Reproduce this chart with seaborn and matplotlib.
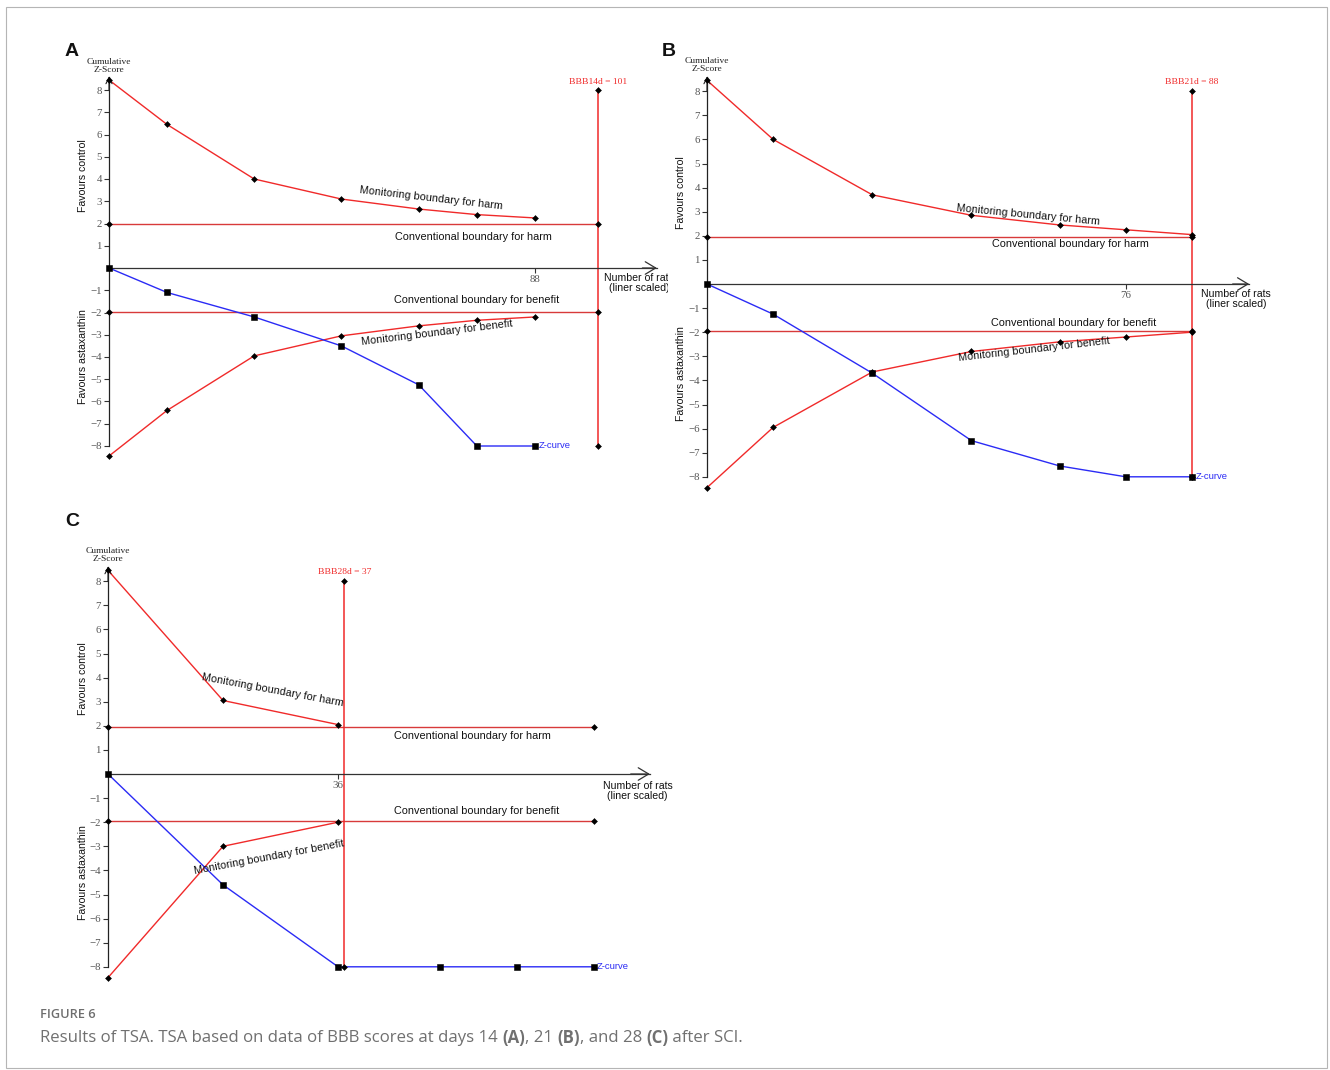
import numpy as np
import pandas as pd
import matplotlib
matplotlib.use("Agg")
import matplotlib.pyplot as plt
from matplotlib.patches import Rectangle
import seaborn as sns

# ---------------- data ----------------
conv_bound = 1.96

# Panel A: BBB score at day 14
a_n = [0, 12, 30, 48, 64, 76, 88]
a_harm = [8.45, 6.45, 4.0, 3.1, 2.65, 2.4, 2.25]
a_benefit = [-8.45, -6.4, -3.95, -3.05, -2.6, -2.35, -2.2]
a_z = [0.0, -1.1, -2.2, -3.5, -5.25, -8.0, -8.0]
a_ris = 101
a_ris_label = "BBB14d = 101"
a_xticks = [88]

# Panel B: BBB score at day 21
b_n = [0, 12, 30, 48, 64, 76, 88]
b_harm = [8.45, 6.0, 3.7, 2.85, 2.45, 2.25, 2.05]
b_benefit = [-8.45, -5.95, -3.65, -2.8, -2.4, -2.2, -2.0]
b_z = [0.0, -1.25, -3.7, -6.5, -7.55, -8.0, -8.0]
b_ris = 88
b_ris_label = "BBB21d = 88"
b_xticks = [76]

# Panel C: BBB score at day 28
c_bound_n = [0, 18, 36]
c_harm = [8.45, 3.05, 2.05]
c_benefit = [-8.45, -3.0, -2.0]
c_z_n = [0, 18, 36, 52, 64, 76]
c_z = [0.0, -4.6, -8.0, -8.0, -8.0, -8.0]
c_ris = 37
c_ris_label = "BBB28d = 37"
c_conv_end = 76
c_xticks = [36]

yticks = [-8, -7, -6, -5, -4, -3, -2, -1, 1, 2, 3, 4, 5, 6, 7, 8]

# ---------------- style ----------------
W, H = 1330, 1070
sns.set_theme(style="white")
plt.rcParams["font.family"] = ["Liberation Sans", "DejaVu Sans"]
plt.rcParams["axes.unicode_minus"] = True

RED = "#f02a2a"
CONV_RED = "#d83a3a"
BLUE = "#2b2bf5"
SERIF = ["Liberation Serif", "DejaVu Serif"]
SANS = ["Liberation Sans", "DejaVu Sans"]

fig = plt.figure(figsize=(W / 100, H / 100), dpi=100)
fig.patch.set_facecolor("white")

# outer frame of the figure
fig.add_artist(Rectangle((6 / W, 1 - 1068 / H), 1321 / W, 1061 / H,
                         transform=fig.transFigure, fill=False,
                         edgecolor="#b5b5b5", linewidth=0.8))


def panel_axes(box, origin, scale):
    left, top, right, bottom = box
    x0, y0 = origin
    sx, sy = scale
    ax = fig.add_axes([left / W, 1 - bottom / H, (right - left) / W, (bottom - top) / H])
    ax.set_xlim((left - x0) / sx, (right - x0) / sx)
    ax.set_ylim((y0 - bottom) / sy, (y0 - top) / sy)
    ax.patch.set_alpha(0)
    return ax


def line(ax, xs, ys, color, lw=1.0, z=2):
    df = pd.DataFrame({"n": xs, "z": ys})
    sns.lineplot(data=df, x="n", y="z", ax=ax, color=color, linewidth=lw,
                 sort=False, estimator=None, zorder=z)


def dots(ax, xs, ys, marker="D", size=9):
    df = pd.DataFrame({"n": xs, "z": ys})
    sns.scatterplot(data=df, x="n", y="z", ax=ax, marker=marker, s=size,
                    color="black", edgecolor="black", linewidth=0.4, zorder=5,
                    legend=False)


def draw_panel(ax, harm_n, harm, benefit, z_n, z, ris, ris_label,
               conv_end, xticks, arrow_end, labels):
    # conventional boundaries
    line(ax, [0, conv_end], [conv_bound, conv_bound], CONV_RED)
    line(ax, [0, conv_end], [-conv_bound, -conv_bound], CONV_RED)
    dots(ax, [0, conv_end, 0, conv_end],
         [conv_bound, conv_bound, -conv_bound, -conv_bound])

    # monitoring boundaries
    line(ax, harm_n, harm, RED)
    line(ax, harm_n, benefit, RED)
    dots(ax, harm_n, harm)
    dots(ax, harm_n, benefit)

    # required information size
    line(ax, [ris, ris], [-8, 8], RED, lw=1.1)
    dots(ax, [ris, ris], [8, -8])
    ax.text(ris, 8.2, ris_label, color=RED, fontsize=6.8, family=SERIF,
            ha="center", va="bottom")

    # cumulative Z-curve
    line(ax, z_n, z, BLUE, z=3)
    dots(ax, z_n, z, marker="s", size=14)
    ax.text(z_n[-1] + labels["zdx"], z[-1], "Z-curve", color=BLUE, fontsize=6.8,
            family=SANS, ha="left", va="center")

    # axes: y axis at n = 0, x axis at z = 0
    for side in ("top", "right"):
        ax.spines[side].set_visible(False)
    ax.spines["left"].set_position(("data", 0))
    ax.spines["left"].set_bounds(-8, 8.6)
    ax.spines["left"].set_color("#222222")
    ax.spines["left"].set_linewidth(0.9)
    ax.spines["bottom"].set_position(("data", 0))
    ax.spines["bottom"].set_bounds(0, arrow_end)
    ax.spines["bottom"].set_color("#333333")
    ax.spines["bottom"].set_linewidth(0.9)
    ax.set_yticks(yticks)
    ax.set_xticks(xticks)
    ax.tick_params(axis="both", direction="out", length=3.6, width=0.8,
                   color="#333333", labelsize=7.8, labelcolor="#555555", pad=1.5,
                   left=True, bottom=True)
    plt.setp(ax.get_yticklabels() + ax.get_xticklabels(), family=SERIF)
    ax.set_xlabel("")
    ax.set_ylabel("")

    # arrow heads
    ax.annotate("", xy=(0, 8.62), xytext=(0, 8.0),
                arrowprops=dict(arrowstyle="->,head_length=0.45,head_width=0.22",
                                lw=0.8, color="#222222", shrinkA=0, shrinkB=0,
                                mutation_scale=10))
    ax.annotate("", xy=(arrow_end, 0), xytext=(arrow_end - 3, 0),
                arrowprops=dict(arrowstyle="->,head_length=0.75,head_width=0.45",
                                lw=0.9, color="#333333", shrinkA=0, shrinkB=0,
                                mutation_scale=10))

    # boundary captions
    for key, txt in (("mh", "Monitoring boundary for harm"),
                     ("ch", "Conventional boundary for harm"),
                     ("cb", "Conventional boundary for benefit"),
                     ("mb", "Monitoring boundary for benefit")):
        x, y, rot = labels[key]
        ax.text(x, y, txt, fontsize=7.8, family=SANS, ha="center", va="center",
                rotation=rot, rotation_mode="anchor", color="#111111")

    ax.text(0, 9.1, "Cumulative\nZ-Score", fontsize=6.8, family=SERIF,
            ha="center", va="center", linespacing=1.0, color="#222222")
    xl, yl = labels["xlab"]
    ax.text(xl, yl, "Number of rats\n(liner scaled)", fontsize=7.6, family=SANS,
            ha="center", va="center", linespacing=1.0, clip_on=True, color="#111111")
    fx, fy1, fy2 = labels["fav"]
    ax.text(fx, fy1, "Favours control", fontsize=7.6, family=SANS, rotation=90,
            ha="center", va="center", color="#111111")
    ax.text(fx, fy2, "Favours astaxanthin", fontsize=7.6, family=SANS, rotation=90,
            ha="center", va="center", color="#111111")


# Panel A
axA = panel_axes((60, 45, 668, 470), (109, 268), (4.84, 22.25))
draw_panel(axA, a_n, a_harm, a_benefit, a_n, a_z, a_ris, a_ris_label, a_ris,
           a_xticks, 113.2,
           dict(mh=(66.5, 3.15, -6.5), ch=(75.2, 1.39, 0), cb=(76.0, -1.44, 0),
                mb=(67.8, -2.92, 7.0), xlab=(109.5, -0.67), fav=(-5.4, 4.13, -4.0),
                zdx=0.7))

# Panel B
axB = panel_axes((660, 45, 1320, 500), (707, 284), (5.51, 24.1))
draw_panel(axB, b_n, b_harm, b_benefit, b_n, b_z, b_ris, b_ris_label, b_ris,
           b_xticks, 98.4,
           dict(mh=(58.3, 2.86, -5.5), ch=(65.9, 1.66, 0), cb=(66.6, -1.62, 0),
                mb=(59.3, -2.70, 6.5), xlab=(96.0, -0.62), fav=(-4.7, 3.8, -3.7),
                zdx=0.7))

# Panel C
axC = panel_axes((60, 530, 700, 1000), (108, 774), (6.39, 24.1))
draw_panel(axC, c_bound_n, c_harm, c_benefit, c_z_n, c_z, c_ris, c_ris_label,
           c_conv_end, c_xticks, 84.8,
           dict(mh=(25.7, 3.49, -10.5), ch=(57.1, 1.58, 0), cb=(57.7, -1.54, 0),
                mb=(25.2, -3.44, 10.5), xlab=(82.9, -0.71), fav=(-3.9, 3.94, -4.07),
                zdx=0.5))

# panel letters
for letter, (px, py) in (("A", (72, 52)), ("B", (669, 52)), ("C", (72, 521))):
    fig.text(px / W, 1 - py / H, letter, fontsize=14, fontweight="bold",
             family=SANS, ha="center", va="center", color="#111111")

# caption
fig.text(40 / W, 1 - 1015 / H, "FIGURE 6", fontsize=9.2, family=["Open Sans", "DejaVu Sans"],
         color="#6e6e6e", ha="left", va="center", fontweight="semibold")
cap_y = 1 - 1038 / H
cap_font = ["Open Sans", "DejaVu Sans"]
parts = [("Results of TSA. TSA based on data of BBB scores at days 14 ", "normal"),
         ("(A)", "bold"), (", 21 ", "normal"), ("(B)", "bold"),
         (", and 28 ", "normal"), ("(C)", "bold"), (" after SCI.", "normal")]
renderer = fig.canvas.get_renderer()
x_px = 40
for txt, wt in parts:
    t = fig.text(x_px / W, cap_y, txt, fontsize=12.1, family=cap_font, color="#707070",
                 ha="left", va="center", fontweight=wt)
    bb = t.get_window_extent(renderer=renderer)
    x_px += bb.width

fig.savefig("out.png", dpi=100, facecolor="white")
